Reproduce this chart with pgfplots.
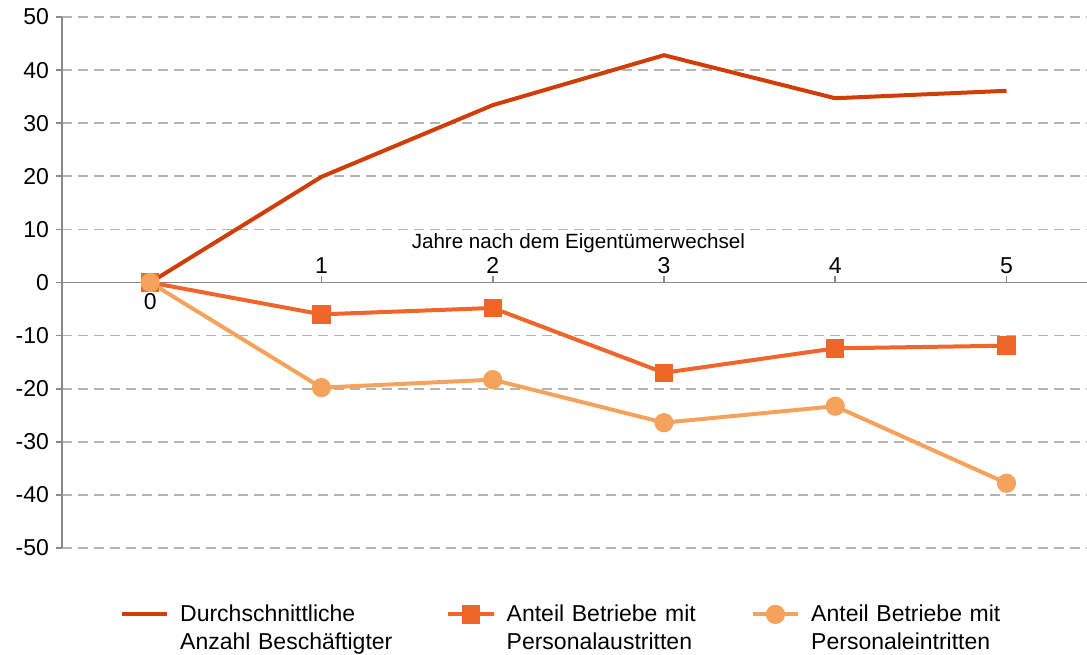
\documentclass[border=0pt]{standalone}
\usepackage{fontspec}
\setmainfont{Liberation Sans}
\usepackage{pgfplots}
\pgfplotsset{compat=1.18}
\definecolor{cA}{HTML}{D13D07}
\definecolor{cB}{HTML}{F0662A}
\definecolor{cC}{HTML}{F5A35C}
\definecolor{gridc}{HTML}{B4B4B4}
\definecolor{axc}{HTML}{8A8A8A}
\begin{document}
\begin{tikzpicture}
\useasboundingbox (-31pt,-53pt) rectangle (512.5pt,274pt);
\begin{axis}[
  at={(0,0)}, anchor=south west,
  scale only axis, width=512.5pt, height=265.5pt,
  xmin=-0.515, xmax=5.47, ymin=-50, ymax=50,
  axis x line=middle, axis y line=left,
  every inner x axis line/.append style={-},
  every outer y axis line/.append style={-},
  axis line style={draw=axc, line width=0.8pt, -},
  xtick={1,2,3,4,5},
  xticklabel style={anchor=south, yshift=1pt},
  extra x ticks={0}, extra x tick labels={0},
  extra x tick style={major tick length=0pt, xticklabel style={anchor=north, yshift=-3pt}},
  ytick={-50,-40,...,50},
  ymajorgrids, grid style={draw=gridc, dash pattern=on 5pt off 3pt, line width=0.8pt},
  tick style={draw=axc, line width=0.8pt},
  xtick align=inside, ytick align=outside,
  major tick length=3pt,
  tick label style={font=\fontsize{11.5}{13}\selectfont},
  /pgf/number format/assume math mode=true,
  clip=false,
  legend columns=3,
  legend style={at={(0.05,-0.125)}, anchor=west, draw=none, fill=none,
    font=\fontsize{11.5}{14}\selectfont,
    cells={anchor=west, align=left},
    /tikz/every odd column/.append style={column sep=3.5pt},
    /tikz/every even column/.append style={column sep=11pt},
    /tikz/column 2/.append style={text width=120pt},
    /tikz/column 4/.append style={text width=109pt},
    /tikz/column 6/.append style={text width=120pt}},
  legend image code/.code={\draw[mark repeat=2,mark phase=2] plot coordinates {(0cm,0cm)(0.4cm,0cm)(0.8cm,0cm)};},
]
\addplot[cA, line width=2pt, no marks] coordinates {(0,0)(1,19.9)(2,33.4)(3,42.8)(4,34.7)(5,36.1)};
\addlegendentry{Durchschnittliche\\Anzahl Beschäftigter}
\addplot[cB, line width=2pt, mark=square*, mark size=3.6pt, mark options={solid, fill=cB}] coordinates {(0,0)(1,-6.0)(2,-4.8)(3,-17.0)(4,-12.4)(5,-11.9)};
\addlegendentry{Anteil Betriebe mit\\Personalaustritten}
\addplot[cC, line width=2pt, mark=*, mark size=3.8pt, mark options={solid, fill=cC}] coordinates {(0,0)(1,-19.8)(2,-18.3)(3,-26.4)(4,-23.3)(5,-37.8)};
\addlegendentry{Anteil Betriebe mit\\Personaleintritten}
\node[font=\fontsize{10.3}{12}\selectfont] at (axis cs:2.5,7.4) {Jahre nach dem Eigentümerwechsel};
\end{axis}
\end{tikzpicture}
\end{document}
